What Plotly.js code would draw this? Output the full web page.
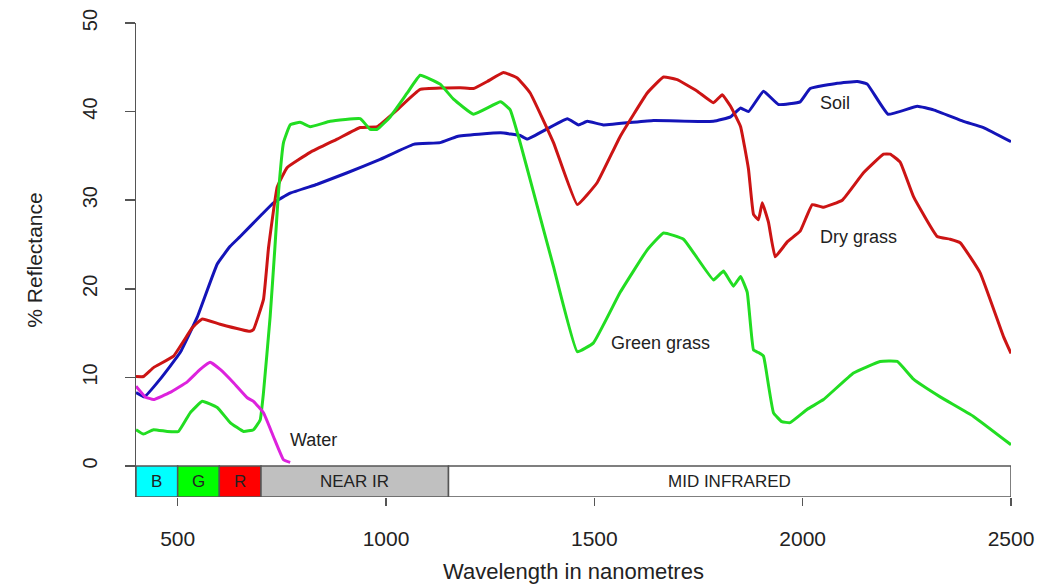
<!DOCTYPE html>
<html>
<head>
<meta charset="utf-8">
<script src="https://cdn.plot.ly/plotly-3.0.1.min.js"></script>
<style>html,body{margin:0;padding:0;background:#fff;}#chart{width:1064px;height:586px;}</style>
</head>
<body>
<div id="chart"></div>
<script>
// Soil
const soilNm  = [400,420,458,506,547,595,626,650,700,730,770,835,907,986,1066,1130,1171,1275,1322,1339,1435,1462,1483,1522,1642,1786,1827,1851,1870,1906,1942,1994,2018,2083,2131,2155,2205,2275,2314,2386,2434,2500];
const soilVal = [8.3,7.8,9.8,12.8,16.8,22.8,24.8,25.9,28.3,29.7,30.8,31.8,33.1,34.6,36.3,36.5,37.2,37.6,37.3,36.9,39.2,38.5,38.9,38.5,39.0,38.9,39.4,40.4,40.0,42.3,40.8,41.1,42.6,43.2,43.4,43.1,39.7,40.6,40.2,38.9,38.2,36.6];
// Dry grass
const dryNm  = [400,418,442,490,535,559,602,674,682,706,718,739,763,818,883,938,979,1027,1082,1178,1210,1243,1282,1315,1346,1402,1459,1507,1562,1627,1666,1699,1747,1786,1807,1827,1851,1870,1882,1894,1903,1918,1934,1963,1994,2023,2050,2095,2146,2194,2210,2234,2266,2323,2354,2378,2426,2482,2500];
const dryVal = [10.1,10.1,11.1,12.4,15.6,16.6,16.0,15.2,15.4,18.8,24.6,31.5,33.7,35.4,36.9,38.2,38.3,40.2,42.5,42.7,42.6,43.4,44.4,43.8,42.1,36.5,29.5,32.0,37.2,42.1,43.9,43.6,42.3,41.0,41.9,40.6,38.3,33.5,28.4,27.8,29.7,27.5,23.6,25.3,26.5,29.5,29.2,30.0,33.1,35.2,35.2,34.3,30.4,25.9,25.6,25.2,21.8,14.6,12.7];
// Green grass
const greenNm  = [400,418,442,475,502,530,559,595,626,658,682,698,706,722,733,742,754,770,794,818,866,938,962,979,1010,1051,1082,1130,1162,1210,1275,1298,1322,1354,1402,1459,1498,1562,1627,1666,1714,1786,1810,1834,1851,1867,1882,1894,1906,1911,1930,1950,1970,2011,2050,2122,2186,2227,2266,2330,2410,2500];
const greenVal = [4.1,3.6,4.1,3.9,3.9,6.0,7.3,6.6,4.9,3.9,4.1,5.2,8.3,16.9,24.4,30.9,36.5,38.5,38.8,38.3,38.9,39.2,38.0,38.0,39.4,42.1,44.1,43.1,41.4,39.7,41.1,40.2,36.5,30.9,22.5,12.9,13.9,19.6,24.4,26.3,25.6,21.0,22.0,20.3,21.4,19.6,13.1,12.8,12.4,11.2,6.0,5.0,4.9,6.4,7.5,10.5,11.8,11.8,9.8,7.8,5.6,2.4];
// Water
const waterNm  = [400,422,442,482,523,554,578,602,634,667,682,706,730,754,770];
const waterVal = [9.0,7.8,7.5,8.3,9.5,10.9,11.7,10.9,9.4,7.7,7.3,6.0,3.3,0.7,0.4];

// Spectral bands
const bandNames  = ["B","G","R","NEAR IR","MID INFRARED"];
const bandStart  = [400,500,600,700,1150];
const bandEnd    = [500,600,700,1150,2500];
const bandColors = ["#00ffff","#00ff00","#ff0000","#c0c0c0","#ffffff"];

const xTicks = [500,1000,1500,2000,2500];
const yTicks = [0,10,20,30,40,50];

const seriesNames = ["Soil","Dry grass","Green grass","Water"];
const FONT = "Liberation Sans, Arial, Helvetica, sans-serif";

function line(x, y, color, name){
  return {x:x, y:y, type:"scatter", mode:"lines", name:name,
          line:{color:color, width:3, shape:"spline", smoothing:0.3},
          hoverinfo:"skip"};
}
const traces = [
  line(soilNm, soilVal, "#1414b8", seriesNames[0]),
  line(dryNm, dryVal, "#cc1414", seriesNames[1]),
  line(greenNm, greenVal, "#22dd22", seriesNames[2]),
  line(waterNm, waterVal, "#dd22dd", seriesNames[3])
];

const shapes = bandNames.map((n,i)=>({
  type:"rect", xref:"x", yref:"y", layer:"below",
  x0:bandStart[i], x1:bandEnd[i], y0:0, y1:-3.5,
  fillcolor:bandColors[i], line:{color:"#555555", width:1.5}
}));

const annotations = bandNames.map((n,i)=>({
  x:(bandStart[i]+bandEnd[i])/2, y:-1.75, xref:"x", yref:"y",
  text:n, showarrow:false, font:{family:FONT, size:17, color:"#222222"}
}));
annotations.push(
  {x:2078, y:41.0, text:"Soil", showarrow:false, xref:"x", yref:"y", font:{family:FONT,size:18,color:"#222"}},
  {x:2133, y:25.8, text:"Dry grass", showarrow:false, xref:"x", yref:"y", font:{family:FONT,size:18,color:"#222"}},
  {x:1659, y:13.9, text:"Green grass", showarrow:false, xref:"x", yref:"y", font:{family:FONT,size:18,color:"#222"}},
  {x:826, y:2.9, text:"Water", showarrow:false, xref:"x", yref:"y", font:{family:FONT,size:18,color:"#222"}}
);

const layout = {
  width:1064, height:586,
  paper_bgcolor:"#ffffff", plot_bgcolor:"#ffffff",
  margin:{l:136, r:53, t:23, b:89},
  showlegend:false,
  font:{family:FONT, color:"#222"},
  xaxis:{
    range:[400,2500], tickvals:xTicks, ticktext:xTicks.map(String),
    ticks:"outside", ticklen:8, tickwidth:1.5, tickcolor:"#555",
    showgrid:false, zeroline:false, showline:false,
    tickfont:{family:FONT, size:21, color:"#222"},
    ticklabelstandoff:15,
    title:{text:"Wavelength in nanometres", font:{family:FONT, size:22, color:"#222"}, standoff:14}
  },
  yaxis:{
    range:[-3.5,50], tickvals:yTicks, ticktext:yTicks.map(String),
    ticks:"outside", ticklen:10, tickwidth:1.5, tickcolor:"#555",
    showgrid:false, zeroline:false, showline:true, linecolor:"#555", linewidth:1.5,
    tickangle:-90,
    tickfont:{family:FONT, size:20, color:"#222"},
    ticklabelstandoff:20,
    title:{text:"% Reflectance", font:{family:FONT, size:21, color:"#222"}, standoff:30}
  },
  shapes:shapes,
  annotations:annotations
};

Plotly.newPlot("chart", traces, layout, {staticPlot:true, displayModeBar:false});
</script>
</body>
</html>
